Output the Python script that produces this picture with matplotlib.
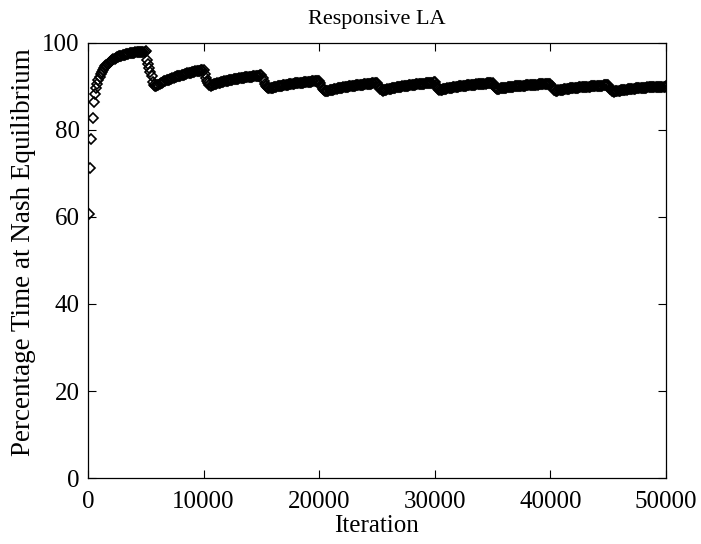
#!/usr/bin/env python
# coding: utf-8
# Responsive LA - percentage of time at Nash equilibrium vs iteration
import numpy as np
import matplotlib
matplotlib.use("Agg")
import matplotlib.pyplot as plt

# Iterations sampled every 100 steps
iterations = np.arange(100, 50001, 100)

# Percentage time at Nash equilibrium (one row per 1000 iterations)
pct_nash = [
    60.6, 71.3, 77.9, 82.8, 86.4, 88.2, 89.6, 90.6, 91.5, 92.2,
    92.8, 93.3, 93.8, 94.2, 94.6, 94.9, 95.2, 95.5, 95.7, 95.9,
    96.1, 96.3, 96.4, 96.6, 96.7, 96.8, 96.9, 97.0, 97.1, 97.2,
    97.3, 97.35, 97.4, 97.5, 97.55, 97.6, 97.65, 97.7, 97.75, 97.8,
    97.85, 97.85, 97.9, 97.9, 97.95, 97.95, 98.0, 98.0, 98.0, 98.05,
    96.1, 95.1, 94.2, 93.3, 92.3, 91.1, 90.3, 90.0, 90.15, 90.3,
    90.45, 90.6, 90.75, 90.9, 91.0, 91.15, 91.3, 91.4, 91.5, 91.6,
    91.7, 91.8, 91.9, 92.0, 92.1, 92.2, 92.3, 92.35, 92.45, 92.5,
    92.6, 92.7, 92.75, 92.85, 92.9, 93.0, 93.05, 93.1, 93.2, 93.25,
    93.3, 93.35, 93.45, 93.5, 93.55, 93.6, 93.65, 93.7, 93.75, 93.8,
    92.9, 92.0, 91.3, 90.7, 90.3, 90.2, 90.3, 90.4, 90.5, 90.58,
    90.66, 90.74, 90.82, 90.9, 90.97, 91.04, 91.11, 91.18, 91.24, 91.3,
    91.36, 91.42, 91.48, 91.53, 91.58, 91.63, 91.68, 91.73, 91.78, 91.83,
    91.87, 91.91, 91.95, 91.99, 92.03, 92.07, 92.11, 92.15, 92.19, 92.23,
    92.26, 92.29, 92.33, 92.36, 92.4, 92.43, 92.47, 92.5, 92.55, 92.6,
    91.9, 91.2, 90.6, 90.1, 89.8, 89.6, 89.55, 89.62, 89.69, 89.76,
    89.83, 89.89, 89.95, 90.01, 90.07, 90.12, 90.17, 90.22, 90.27, 90.32,
    90.37, 90.41, 90.45, 90.49, 90.53, 90.57, 90.61, 90.65, 90.69, 90.73,
    90.76, 90.79, 90.82, 90.85, 90.88, 90.91, 90.94, 90.97, 91.0, 91.03,
    91.06, 91.09, 91.12, 91.15, 91.18, 91.21, 91.24, 91.27, 91.31, 91.35,
    90.7, 90.0, 89.5, 89.1, 88.9, 88.85, 88.93, 89.01, 89.09, 89.16,
    89.23, 89.3, 89.36, 89.42, 89.48, 89.54, 89.6, 89.65, 89.7, 89.75,
    89.8, 89.85, 89.9, 89.94, 89.98, 90.02, 90.06, 90.1, 90.14, 90.18,
    90.22, 90.26, 90.29, 90.32, 90.35, 90.38, 90.41, 90.44, 90.47, 90.5,
    90.53, 90.56, 90.6, 90.63, 90.67, 90.7, 90.74, 90.78, 90.83, 90.9,
    90.3, 89.8, 89.4, 89.15, 89.05, 89.12, 89.19, 89.26, 89.32, 89.38,
    89.44, 89.5, 89.56, 89.62, 89.67, 89.72, 89.77, 89.82, 89.87, 89.92,
    89.96, 90.0, 90.04, 90.08, 90.12, 90.16, 90.2, 90.24, 90.28, 90.32,
    90.36, 90.4, 90.43, 90.46, 90.49, 90.52, 90.55, 90.58, 90.61, 90.64,
    90.67, 90.7, 90.73, 90.76, 90.79, 90.82, 90.85, 90.89, 90.94, 91.0,
    90.4, 89.9, 89.5, 89.3, 89.2, 89.26, 89.32, 89.38, 89.44, 89.5,
    89.55, 89.6, 89.65, 89.7, 89.75, 89.8, 89.84, 89.88, 89.92, 89.96,
    90.0, 90.04, 90.08, 90.12, 90.15, 90.18, 90.21, 90.24, 90.27, 90.3,
    90.33, 90.36, 90.39, 90.42, 90.45, 90.48, 90.51, 90.54, 90.57, 90.6,
    90.62, 90.64, 90.66, 90.68, 90.7, 90.73, 90.76, 90.8, 90.85, 90.9,
    90.4, 89.95, 89.65, 89.5, 89.45, 89.5, 89.55, 89.6, 89.64, 89.68,
    89.72, 89.76, 89.8, 89.84, 89.88, 89.91, 89.94, 89.97, 90.0, 90.03,
    90.06, 90.09, 90.12, 90.14, 90.16, 90.18, 90.2, 90.22, 90.24, 90.26,
    90.28, 90.3, 90.32, 90.34, 90.36, 90.38, 90.4, 90.42, 90.44, 90.46,
    90.47, 90.48, 90.49, 90.5, 90.51, 90.52, 90.54, 90.56, 90.58, 90.6,
    90.1, 89.6, 89.3, 89.1, 89.0, 89.05, 89.1, 89.15, 89.2, 89.25,
    89.3, 89.34, 89.38, 89.42, 89.46, 89.5, 89.54, 89.58, 89.61, 89.64,
    89.67, 89.7, 89.73, 89.76, 89.79, 89.82, 89.85, 89.87, 89.89, 89.91,
    89.93, 89.95, 89.97, 89.99, 90.01, 90.03, 90.05, 90.07, 90.09, 90.11,
    90.13, 90.15, 90.17, 90.19, 90.21, 90.23, 90.25, 90.27, 90.29, 90.3,
    89.8, 89.35, 89.0, 88.85, 88.8, 88.85, 88.9, 88.95, 89.0, 89.05,
    89.1, 89.14, 89.18, 89.22, 89.26, 89.3, 89.34, 89.37, 89.4, 89.43,
    89.46, 89.49, 89.52, 89.55, 89.58, 89.61, 89.63, 89.65, 89.67, 89.69,
    89.71, 89.73, 89.75, 89.77, 89.79, 89.81, 89.83, 89.85, 89.87, 89.89,
    89.9, 89.91, 89.92, 89.93, 89.94, 89.95, 89.96, 89.97, 89.98, 90.0,
]

xticks = [0, 10000, 20000, 30000, 40000, 50000]
yticks = [0, 20, 40, 60, 80, 100]

plt.rcParams['font.family'] = ['Liberation Serif', 'DejaVu Serif']
plt.rcParams['font.size'] = 18

fig = plt.figure(figsize=(7.01, 5.44), dpi=100)
ax = fig.add_axes([0.1255, 0.1213, 0.8245, 0.7997])

ax.plot(iterations, pct_nash, linestyle='none', marker='D', markersize=5.5,
        markerfacecolor='none', markeredgecolor='black', markeredgewidth=1.2)

ax.set_xlim(0, 50000)
ax.set_ylim(0, 100)
ax.set_xticks(xticks)
ax.set_yticks(yticks)
ax.tick_params(direction='in', length=6, width=0.8, top=True, right=True)
ax.tick_params(axis='x', pad=9)
ax.tick_params(axis='y', pad=6)
for s in ax.spines.values():
    s.set_linewidth(0.9)

ax.set_title('Responsive LA', fontsize=16, pad=14)
ax.set_xlabel('Iteration', labelpad=2)
ax.set_ylabel('Percentage Time at Nash Equilibrium', fontsize=19.5)
ax.yaxis.set_label_coords(-0.090, 0.52)

fig.savefig('out.png', dpi=100)
